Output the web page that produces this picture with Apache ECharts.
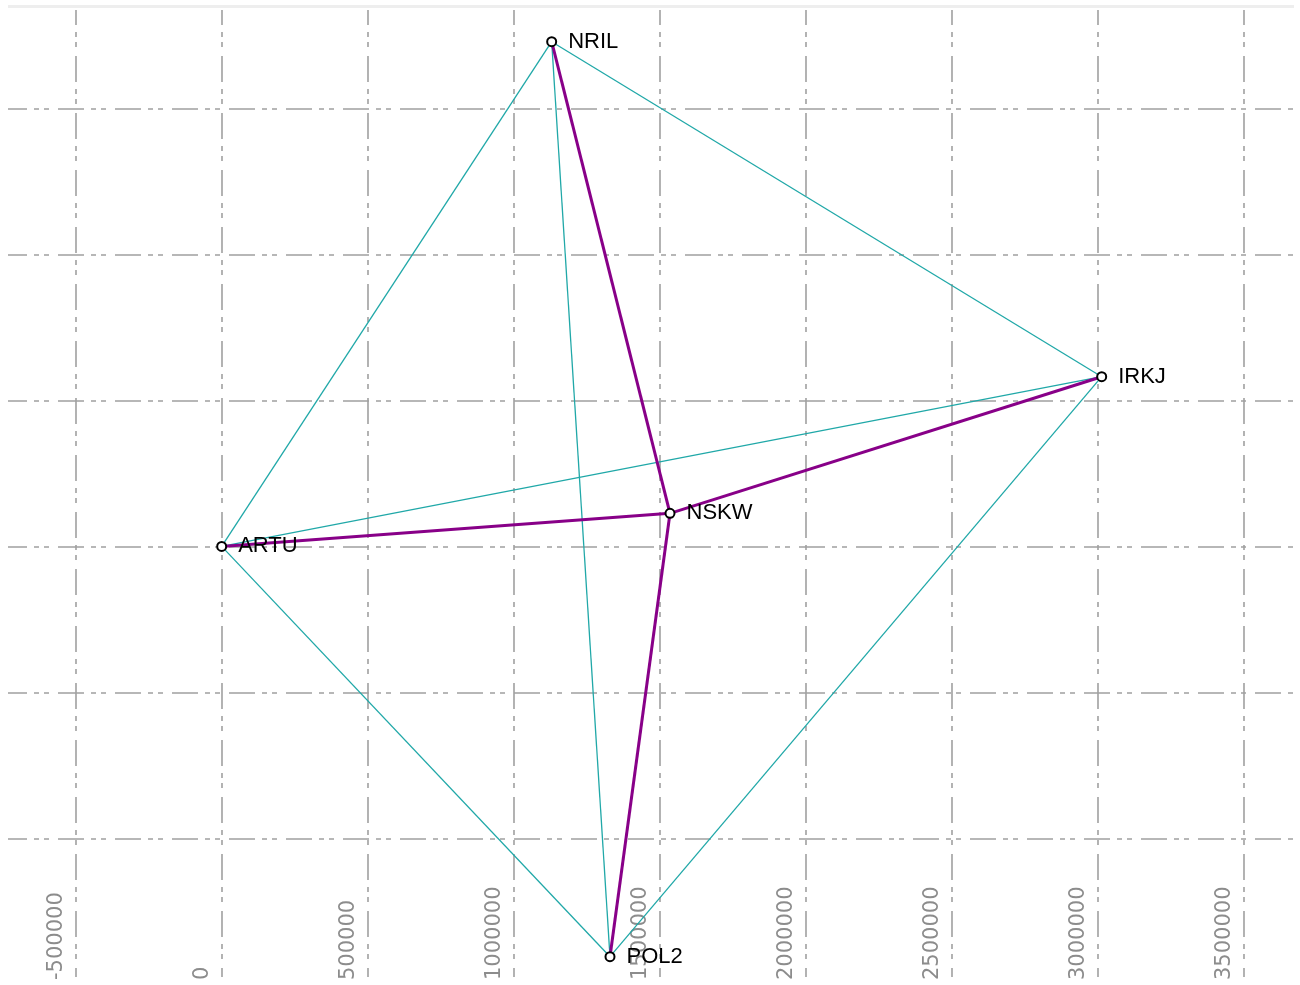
<!DOCTYPE html>
<html>
<head>
<meta charset="utf-8">
<title>Baseline network</title>
<script src="https://cdn.jsdelivr.net/npm/echarts@6/dist/echarts.min.js"></script>
<style>
  html, body { margin: 0; padding: 0; background: #ffffff; }
  #chart { width: 1300px; height: 985px; }
</style>
</head>
<body>
<div id="chart"></div>
<script>
// Station names and planar coordinates (metres)
const stations = ['NRIL', 'IRKJ', 'NSKW', 'ARTU', 'POL2'];
const eastings = [1129800, 3012900, 1534900, 0, 1329500];
const northings = [1727900, 581000, 113300, 0, -1404700];

// Baselines between the outer stations
const outerBaselines = [
  ['ARTU', 'NRIL'],
  ['NRIL', 'IRKJ'],
  ['NRIL', 'POL2'],
  ['ARTU', 'IRKJ'],
  ['ARTU', 'POL2'],
  ['IRKJ', 'POL2']
];
// Baselines to the hub station
const hubBaselines = [
  ['NSKW', 'NRIL'],
  ['NSKW', 'ARTU'],
  ['NSKW', 'IRKJ'],
  ['NSKW', 'POL2']
];

// Visible extent of the map
const xMin = -731580, xMax = 3674750;
const yMin = -1474260, yMax = 1836480;

const chart = echarts.init(document.getElementById('chart'), null, { renderer: 'canvas' });

const gridColor = '#a0a0a0';
const dash = [26, 7, 5, 5, 5, 9];

const nodes = stations.map((name, i) => ({
  name: name,
  value: [eastings[i], northings[i]]
}));

const links = outerBaselines.map(([s, t]) => ({
  source: s, target: t,
  lineStyle: { color: '#20a8a8', width: 1.3, opacity: 1 }
})).concat(hubBaselines.map(([s, t]) => ({
  source: s, target: t,
  lineStyle: { color: '#880088', width: 3, opacity: 1 }
})));

chart.setOption({
  animation: false,
  backgroundColor: '#ffffff',
  grid: { left: 8, right: 5, top: 10, bottom: 8, containLabel: false },
  graphic: [{
    type: 'rect',
    shape: { x: 8, y: 5, width: 1286, height: 3 },
    style: { fill: '#eeeeee' },
    silent: true
  }],
  xAxis: {
    type: 'value',
    min: xMin, max: xMax,
    splitNumber: 9,
    axisLine: { show: false },
    axisTick: { show: false },
    axisLabel: {
      inside: true,
      rotate: 90,
      margin: -3,
      align: 'left',
      verticalAlign: 'bottom',
      padding: [0, 0, 9, 0],
      showMinLabel: false,
      showMaxLabel: false,
      formatter: (v) => String(v),
      fontFamily: 'DejaVu Sans',
      fontSize: 21,
      color: '#8c8c8c'
    },
    splitLine: {
      show: true,
      showMinLine: false,
      showMaxLine: false,
      lineStyle: { color: gridColor, width: 1.6, type: dash, dashOffset: 11 }
    }
  },
  yAxis: {
    type: 'value',
    min: yMin, max: yMax,
    splitNumber: 7,
    axisLine: { show: false },
    axisTick: { show: false },
    axisLabel: { show: false },
    splitLine: {
      show: true,
      showMinLine: false,
      showMaxLine: false,
      lineStyle: { color: gridColor, width: 1.6, type: dash, dashOffset: 7 }
    }
  },
  series: [{
    type: 'graph',
    layout: 'none',
    coordinateSystem: 'cartesian2d',
    data: nodes,
    links: links,
    symbol: 'emptyCircle',
    symbolSize: 9,
    itemStyle: { color: '#000000', borderColor: '#000000', borderWidth: 1 },
    label: {
      show: true,
      position: 'right',
      distance: 11,
      fontFamily: 'Liberation Sans',
      fontSize: 22,
      color: '#000000'
    },
    emphasis: { disabled: true },
    z: 3
  }]
});
</script>
</body>
</html>
